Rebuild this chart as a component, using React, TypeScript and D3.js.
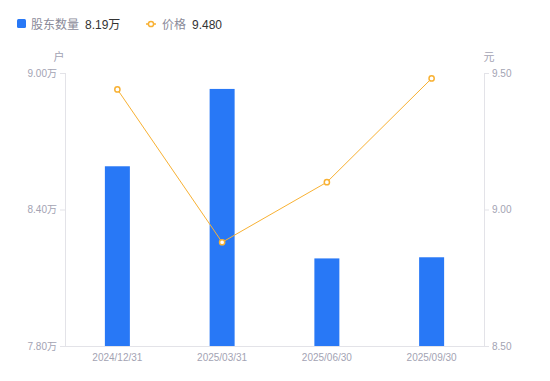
import React from "react";
import * as d3 from "d3";

const categories = ["2024/12/31", "2025/03/31", "2025/06/30", "2025/09/30"];
const holders = [8.59, 8.93, 8.185, 8.19];
const prices = [9.44, 8.88, 9.1, 9.48];
const leftTicks = [7.8, 8.4, 9.0];
const rightTicks = [8.5, 9.0, 9.5];

const W = 550, H = 381;
const M = { left: 65, right: 484, top: 73, bottom: 346 };
const FONT = "'Liberation Sans', Arial, 'Noto Sans CJK SC', sans-serif";
const BAR = "#2878f6";
const LINE = "#f8b133";
const AXIS = "#e3e3e8";
const TICKTXT = "#a3a3b3";

export default function App() {
  const x = d3.scaleBand<string>().domain(categories).range([M.left, M.right]);
  const yL = d3.scaleLinear().domain([7.8, 9.0]).range([M.bottom, M.top]);
  const yR = d3.scaleLinear().domain([8.5, 9.5]).range([M.bottom, M.top]);
  const bw = 25;
  const cx = (c: string) => (x(c) as number) + x.bandwidth() / 2;
  const line = d3
    .line<number>()
    .x((_, i) => cx(categories[i]))
    .y((d) => yR(d));

  return (
    <svg width={W} height={H} style={{ position: "absolute", left: 0, top: 0, fontFamily: FONT }}>
      <rect width={W} height={H} fill="#fff" />
      {/* legend */}
      <rect x={17} y={19} width={9} height={9} rx={1.5} fill={BAR} />
      <text x={31} y={28.5} fontSize={12} fill="#8a8a99">股东数量</text>
      <text x={85} y={28.5} fontSize={12} fill="#333">8.19万</text>
      <line x1={146} x2={156} y1={24} y2={24} stroke={LINE} strokeWidth={1.5} />
      <circle cx={151} cy={24} r={2.6} fill="#fff" stroke={LINE} strokeWidth={1.5} />
      <text x={162} y={28.5} fontSize={12} fill="#8a8a99">价格</text>
      <text x={192} y={28.5} fontSize={12} fill="#333">9.480</text>

      {/* unit labels */}
      <text x={59} y={61} fontSize={11} fill={TICKTXT} textAnchor="middle">户</text>
      <text x={489} y={61} fontSize={11} fill={TICKTXT} textAnchor="middle">元</text>

      {/* axes */}
      <line x1={M.left + 0.5} x2={M.left + 0.5} y1={M.top} y2={M.bottom} stroke={AXIS} />
      <line x1={M.right + 0.5} x2={M.right + 0.5} y1={M.top} y2={M.bottom} stroke={AXIS} />
      <line x1={M.left} x2={M.right + 1} y1={M.bottom + 0.5} y2={M.bottom + 0.5} stroke={AXIS} />
      {leftTicks.map((t) => (
        <g key={"l" + t}>
          <line x1={M.left - 5} x2={M.left} y1={yL(t) + 0.5} y2={yL(t) + 0.5} stroke={AXIS} />
          <text x={M.left - 8} y={yL(t) + 3.5} fontSize={10} fill={TICKTXT} textAnchor="end">
            {t.toFixed(2) + "万"}
          </text>
        </g>
      ))}
      {rightTicks.map((t) => (
        <g key={"r" + t}>
          <line x1={M.right} x2={M.right + 5} y1={yR(t) + 0.5} y2={yR(t) + 0.5} stroke={AXIS} />
          <text x={M.right + 8} y={yR(t) + 3.5} fontSize={10} fill={TICKTXT} textAnchor="start">
            {t.toFixed(2)}
          </text>
        </g>
      ))}
      {categories.map((c) => (
        <text key={c} x={cx(c)} y={361} fontSize={10} fill={TICKTXT} textAnchor="middle">
          {c}
        </text>
      ))}

      {/* bars */}
      {holders.map((v, i) => (
        <rect
          key={i}
          x={cx(categories[i]) - bw / 2}
          y={yL(v)}
          width={bw}
          height={M.bottom - yL(v)}
          fill={BAR}
        />
      ))}

      {/* line */}
      <path d={line(prices) || ""} fill="none" stroke={LINE} strokeWidth={1} />
      {prices.map((v, i) => (
        <circle key={i} cx={cx(categories[i])} cy={yR(v)} r={2.6} fill="#fff" stroke={LINE} strokeWidth={1.5} />
      ))}
    </svg>
  );
}
